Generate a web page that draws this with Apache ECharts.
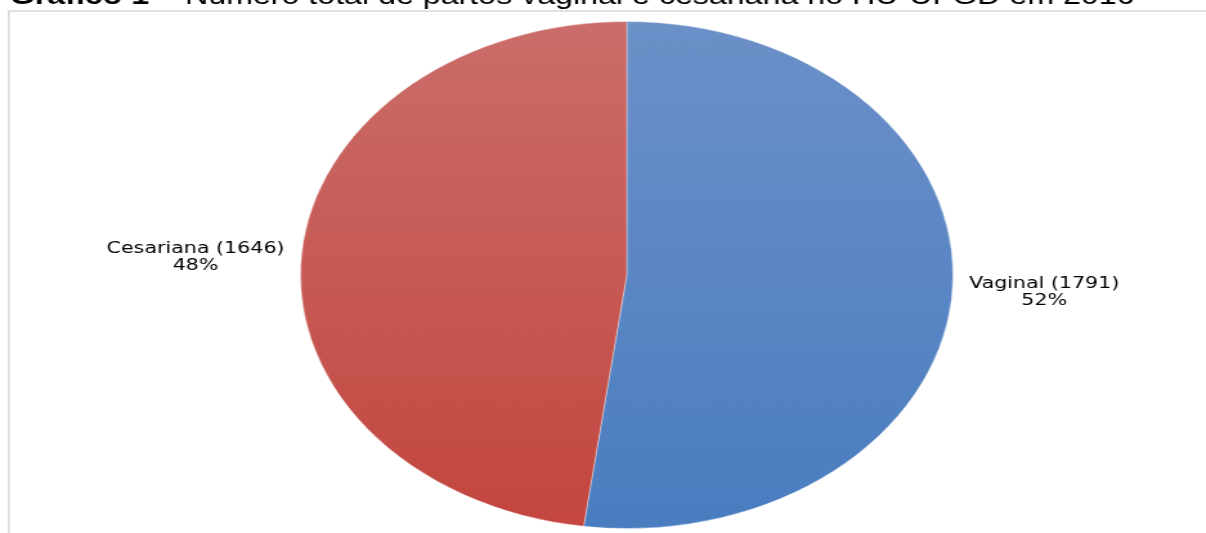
<!DOCTYPE html>
<html>
<head>
<meta charset="utf-8">
<script src="https://cdn.jsdelivr.net/npm/echarts@6/dist/echarts.min.js"></script>
<style>
  html, body { margin: 0; padding: 0; background: #fff; overflow: hidden; }
  #wrap { width: 1206px; height: 533px; overflow: hidden; position: relative; }
  /* the figure is laid out narrow and widened horizontally as a whole */
  #chart { width: 937px; height: 533px; transform: scaleX(1.287); transform-origin: 0 0; }
</style>
</head>
<body>
<div id="wrap"><div id="chart"></div></div>
<script>
// Partos no HU-UFGD em 2016
const categories = ['Vaginal', 'Cesariana'];
const counts = [1791, 1646];
const titleBold = 'Gráfico 1';
const titleRest = ' – Número total de partos vaginal e cesariana no HU-UFGD em 2016';

const gradients = [
  ['#6c90c8', '#497dc0'],
  ['#ca6d6a', '#c3463f']
];

const chart = echarts.init(document.getElementById('chart'), null, { renderer: 'canvas' });

const data = categories.map((name, i) => ({
  name: name,
  value: counts[i],
  itemStyle: {
    color: new echarts.graphic.LinearGradient(0, 0, 0, 1, [
      { offset: 0, color: gradients[i][0] },
      { offset: 1, color: gradients[i][1] }
    ])
  }
}));

chart.setOption({
  animation: false,
  backgroundColor: '#ffffff',
  graphic: [
    {
      type: 'rect',
      silent: true,
      shape: { x: 6.8, y: 11, width: 3000, height: 3000 },
      style: { fill: 'none', stroke: '#d9d9d9', lineWidth: 1.5 }
    },
    {
      type: 'text',
      silent: true,
      x: 7.5,
      y: 10,
      style: {
        text: '{b|' + titleBold + '}' + titleRest,
        fill: '#000',
        font: '25px "Liberation Sans", Arial, sans-serif',
        verticalAlign: 'bottom',
        rich: {
          b: { fontWeight: 'bold', fontSize: 25, fontFamily: '"Liberation Sans", Arial, sans-serif', fill: '#000' }
        }
      }
    }
  ],
  series: [
    {
      type: 'pie',
      center: [487, 275],
      radius: 253.5,
      startAngle: 90,
      clockwise: true,
      percentPrecision: 0,
      avoidLabelOverlap: false,
      silent: true,
      itemStyle: { borderColor: 'rgba(255,255,255,0.35)', borderWidth: 1 },
      label: {
        show: true,
        position: 'outside',
        distanceToLabelLine: 6,
        formatter: '{t|{b} ({c})}\n{t|{d}%}',
        rich: {
          t: {
            align: 'center',
            fontSize: 16,
            fontFamily: '"DejaVu Sans", sans-serif',
            color: '#000',
            lineHeight: 17
          }
        }
      },
      labelLine: { show: false, length: 7, length2: 0 },
      data: data
    }
  ]
});
</script>
</body>
</html>
